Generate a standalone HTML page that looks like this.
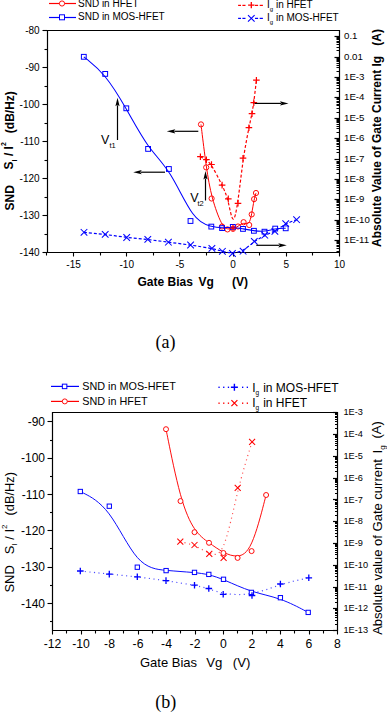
<!DOCTYPE html><html><head><meta charset="utf-8"><style>html,body{margin:0;padding:0;background:#fff;}svg{display:block}</style></head><body>
<svg width="387" height="712" viewBox="0 0 387 712">
<rect width="387" height="712" fill="#fff"/>
<path d="M47.5,30.5 H339.5 V252.5 H47.5 Z" fill="none" stroke="#000" stroke-width="1.2"/>
<path d="M42.5,30.50 H47.5" stroke="#000" stroke-width="1.1"/>
<text x="39.60" y="34.10" font-family="Liberation Sans" font-size="10" font-weight="normal" text-anchor="end" fill="#000" >-80</text>
<path d="M44.5,49.50 H47.5" stroke="#000" stroke-width="1.1"/>
<path d="M42.5,67.50 H47.5" stroke="#000" stroke-width="1.1"/>
<text x="39.60" y="71.10" font-family="Liberation Sans" font-size="10" font-weight="normal" text-anchor="end" fill="#000" >-90</text>
<path d="M44.5,86.50 H47.5" stroke="#000" stroke-width="1.1"/>
<path d="M42.5,104.50 H47.5" stroke="#000" stroke-width="1.1"/>
<text x="39.60" y="108.10" font-family="Liberation Sans" font-size="10" font-weight="normal" text-anchor="end" fill="#000" >-100</text>
<path d="M44.5,123.50 H47.5" stroke="#000" stroke-width="1.1"/>
<path d="M42.5,141.50 H47.5" stroke="#000" stroke-width="1.1"/>
<text x="39.60" y="145.10" font-family="Liberation Sans" font-size="10" font-weight="normal" text-anchor="end" fill="#000" >-110</text>
<path d="M44.5,160.50 H47.5" stroke="#000" stroke-width="1.1"/>
<path d="M42.5,178.50 H47.5" stroke="#000" stroke-width="1.1"/>
<text x="39.60" y="182.10" font-family="Liberation Sans" font-size="10" font-weight="normal" text-anchor="end" fill="#000" >-120</text>
<path d="M44.5,197.50 H47.5" stroke="#000" stroke-width="1.1"/>
<path d="M42.5,215.50 H47.5" stroke="#000" stroke-width="1.1"/>
<text x="39.60" y="219.10" font-family="Liberation Sans" font-size="10" font-weight="normal" text-anchor="end" fill="#000" >-130</text>
<path d="M44.5,234.50 H47.5" stroke="#000" stroke-width="1.1"/>
<path d="M42.5,252.50 H47.5" stroke="#000" stroke-width="1.1"/>
<text x="39.60" y="256.10" font-family="Liberation Sans" font-size="10" font-weight="normal" text-anchor="end" fill="#000" >-140</text>
<path d="M46.50,252.5 V255.5" stroke="#000" stroke-width="1.1"/>
<path d="M73.50,252.5 V256.5" stroke="#000" stroke-width="1.1"/>
<text x="73.56" y="268.00" font-family="Liberation Sans" font-size="10" font-weight="normal" text-anchor="middle" fill="#000" >-15</text>
<path d="M100.50,252.5 V255.5" stroke="#000" stroke-width="1.1"/>
<path d="M126.50,252.5 V256.5" stroke="#000" stroke-width="1.1"/>
<text x="126.74" y="268.00" font-family="Liberation Sans" font-size="10" font-weight="normal" text-anchor="middle" fill="#000" >-10</text>
<path d="M153.50,252.5 V255.5" stroke="#000" stroke-width="1.1"/>
<path d="M179.50,252.5 V256.5" stroke="#000" stroke-width="1.1"/>
<text x="179.92" y="268.00" font-family="Liberation Sans" font-size="10" font-weight="normal" text-anchor="middle" fill="#000" >-5</text>
<path d="M206.50,252.5 V255.5" stroke="#000" stroke-width="1.1"/>
<path d="M233.50,252.5 V256.5" stroke="#000" stroke-width="1.1"/>
<text x="233.10" y="268.00" font-family="Liberation Sans" font-size="10" font-weight="normal" text-anchor="middle" fill="#000" >0</text>
<path d="M259.50,252.5 V255.5" stroke="#000" stroke-width="1.1"/>
<path d="M286.50,252.5 V256.5" stroke="#000" stroke-width="1.1"/>
<text x="286.28" y="268.00" font-family="Liberation Sans" font-size="10" font-weight="normal" text-anchor="middle" fill="#000" >5</text>
<path d="M312.50,252.5 V255.5" stroke="#000" stroke-width="1.1"/>
<path d="M339.50,252.5 V256.5" stroke="#000" stroke-width="1.1"/>
<text x="339.46" y="268.00" font-family="Liberation Sans" font-size="10" font-weight="normal" text-anchor="middle" fill="#000" >10</text>
<path d="M334.5,36.50 H339.5" stroke="#000" stroke-width="1.2"/>
<text x="344.00" y="39.30" font-family="Liberation Sans" font-size="9.7" font-weight="normal" text-anchor="start" fill="#000" >0.1</text>
<path d="M334.5,57.50 H339.5" stroke="#000" stroke-width="1.2"/>
<text x="344.00" y="59.69" font-family="Liberation Sans" font-size="9.7" font-weight="normal" text-anchor="start" fill="#000" >0.01</text>
<path d="M334.5,77.50 H339.5" stroke="#000" stroke-width="1.2"/>
<text x="344.00" y="80.08" font-family="Liberation Sans" font-size="9.7" font-weight="normal" text-anchor="start" fill="#000" >1E-3</text>
<path d="M334.5,97.50 H339.5" stroke="#000" stroke-width="1.2"/>
<text x="344.00" y="100.47" font-family="Liberation Sans" font-size="9.7" font-weight="normal" text-anchor="start" fill="#000" >1E-4</text>
<path d="M334.5,118.50 H339.5" stroke="#000" stroke-width="1.2"/>
<text x="344.00" y="120.86" font-family="Liberation Sans" font-size="9.7" font-weight="normal" text-anchor="start" fill="#000" >1E-5</text>
<path d="M334.5,138.50 H339.5" stroke="#000" stroke-width="1.2"/>
<text x="344.00" y="141.25" font-family="Liberation Sans" font-size="9.7" font-weight="normal" text-anchor="start" fill="#000" >1E-6</text>
<path d="M334.5,159.50 H339.5" stroke="#000" stroke-width="1.2"/>
<text x="344.00" y="161.64" font-family="Liberation Sans" font-size="9.7" font-weight="normal" text-anchor="start" fill="#000" >1E-7</text>
<path d="M334.5,179.50 H339.5" stroke="#000" stroke-width="1.2"/>
<text x="344.00" y="182.03" font-family="Liberation Sans" font-size="9.7" font-weight="normal" text-anchor="start" fill="#000" >1E-8</text>
<path d="M334.5,199.50 H339.5" stroke="#000" stroke-width="1.2"/>
<text x="344.00" y="202.42" font-family="Liberation Sans" font-size="9.7" font-weight="normal" text-anchor="start" fill="#000" >1E-9</text>
<path d="M334.5,220.50 H339.5" stroke="#000" stroke-width="1.2"/>
<text x="344.00" y="222.81" font-family="Liberation Sans" font-size="9.7" font-weight="normal" text-anchor="start" fill="#000" >1E-10</text>
<path d="M334.5,240.50 H339.5" stroke="#000" stroke-width="1.2"/>
<text x="344.00" y="243.20" font-family="Liberation Sans" font-size="9.7" font-weight="normal" text-anchor="start" fill="#000" >1E-11</text>
<path d="M336.5,30.50 H339.5" stroke="#000" stroke-width="1"/>
<path d="M336.5,50.50 H339.5" stroke="#000" stroke-width="1"/>
<path d="M336.5,47.50 H339.5" stroke="#000" stroke-width="1"/>
<path d="M336.5,44.50 H339.5" stroke="#000" stroke-width="1"/>
<path d="M336.5,42.50 H339.5" stroke="#000" stroke-width="1"/>
<path d="M336.5,41.50 H339.5" stroke="#000" stroke-width="1"/>
<path d="M336.5,39.50 H339.5" stroke="#000" stroke-width="1"/>
<path d="M336.5,38.50 H339.5" stroke="#000" stroke-width="1"/>
<path d="M336.5,37.50 H339.5" stroke="#000" stroke-width="1"/>
<path d="M336.5,71.50 H339.5" stroke="#000" stroke-width="1"/>
<path d="M336.5,67.50 H339.5" stroke="#000" stroke-width="1"/>
<path d="M336.5,65.50 H339.5" stroke="#000" stroke-width="1"/>
<path d="M336.5,63.50 H339.5" stroke="#000" stroke-width="1"/>
<path d="M336.5,61.50 H339.5" stroke="#000" stroke-width="1"/>
<path d="M336.5,60.50 H339.5" stroke="#000" stroke-width="1"/>
<path d="M336.5,59.50 H339.5" stroke="#000" stroke-width="1"/>
<path d="M336.5,58.50 H339.5" stroke="#000" stroke-width="1"/>
<path d="M336.5,91.50 H339.5" stroke="#000" stroke-width="1"/>
<path d="M336.5,88.50 H339.5" stroke="#000" stroke-width="1"/>
<path d="M336.5,85.50 H339.5" stroke="#000" stroke-width="1"/>
<path d="M336.5,83.50 H339.5" stroke="#000" stroke-width="1"/>
<path d="M336.5,82.50 H339.5" stroke="#000" stroke-width="1"/>
<path d="M336.5,80.50 H339.5" stroke="#000" stroke-width="1"/>
<path d="M336.5,79.50 H339.5" stroke="#000" stroke-width="1"/>
<path d="M336.5,78.50 H339.5" stroke="#000" stroke-width="1"/>
<path d="M336.5,112.50 H339.5" stroke="#000" stroke-width="1"/>
<path d="M336.5,108.50 H339.5" stroke="#000" stroke-width="1"/>
<path d="M336.5,105.50 H339.5" stroke="#000" stroke-width="1"/>
<path d="M336.5,104.50 H339.5" stroke="#000" stroke-width="1"/>
<path d="M336.5,102.50 H339.5" stroke="#000" stroke-width="1"/>
<path d="M336.5,101.50 H339.5" stroke="#000" stroke-width="1"/>
<path d="M336.5,99.50 H339.5" stroke="#000" stroke-width="1"/>
<path d="M336.5,98.50 H339.5" stroke="#000" stroke-width="1"/>
<path d="M336.5,132.50 H339.5" stroke="#000" stroke-width="1"/>
<path d="M336.5,128.50 H339.5" stroke="#000" stroke-width="1"/>
<path d="M336.5,126.50 H339.5" stroke="#000" stroke-width="1"/>
<path d="M336.5,124.50 H339.5" stroke="#000" stroke-width="1"/>
<path d="M336.5,122.50 H339.5" stroke="#000" stroke-width="1"/>
<path d="M336.5,121.50 H339.5" stroke="#000" stroke-width="1"/>
<path d="M336.5,120.50 H339.5" stroke="#000" stroke-width="1"/>
<path d="M336.5,119.50 H339.5" stroke="#000" stroke-width="1"/>
<path d="M336.5,152.50 H339.5" stroke="#000" stroke-width="1"/>
<path d="M336.5,149.50 H339.5" stroke="#000" stroke-width="1"/>
<path d="M336.5,146.50 H339.5" stroke="#000" stroke-width="1"/>
<path d="M336.5,144.50 H339.5" stroke="#000" stroke-width="1"/>
<path d="M336.5,143.50 H339.5" stroke="#000" stroke-width="1"/>
<path d="M336.5,141.50 H339.5" stroke="#000" stroke-width="1"/>
<path d="M336.5,140.50 H339.5" stroke="#000" stroke-width="1"/>
<path d="M336.5,139.50 H339.5" stroke="#000" stroke-width="1"/>
<path d="M336.5,173.50 H339.5" stroke="#000" stroke-width="1"/>
<path d="M336.5,169.50 H339.5" stroke="#000" stroke-width="1"/>
<path d="M336.5,167.50 H339.5" stroke="#000" stroke-width="1"/>
<path d="M336.5,165.50 H339.5" stroke="#000" stroke-width="1"/>
<path d="M336.5,163.50 H339.5" stroke="#000" stroke-width="1"/>
<path d="M336.5,162.50 H339.5" stroke="#000" stroke-width="1"/>
<path d="M336.5,161.50 H339.5" stroke="#000" stroke-width="1"/>
<path d="M336.5,159.50 H339.5" stroke="#000" stroke-width="1"/>
<path d="M336.5,193.50 H339.5" stroke="#000" stroke-width="1"/>
<path d="M336.5,190.50 H339.5" stroke="#000" stroke-width="1"/>
<path d="M336.5,187.50 H339.5" stroke="#000" stroke-width="1"/>
<path d="M336.5,185.50 H339.5" stroke="#000" stroke-width="1"/>
<path d="M336.5,183.50 H339.5" stroke="#000" stroke-width="1"/>
<path d="M336.5,182.50 H339.5" stroke="#000" stroke-width="1"/>
<path d="M336.5,181.50 H339.5" stroke="#000" stroke-width="1"/>
<path d="M336.5,180.50 H339.5" stroke="#000" stroke-width="1"/>
<path d="M336.5,214.50 H339.5" stroke="#000" stroke-width="1"/>
<path d="M336.5,210.50 H339.5" stroke="#000" stroke-width="1"/>
<path d="M336.5,207.50 H339.5" stroke="#000" stroke-width="1"/>
<path d="M336.5,205.50 H339.5" stroke="#000" stroke-width="1"/>
<path d="M336.5,204.50 H339.5" stroke="#000" stroke-width="1"/>
<path d="M336.5,202.50 H339.5" stroke="#000" stroke-width="1"/>
<path d="M336.5,201.50 H339.5" stroke="#000" stroke-width="1"/>
<path d="M336.5,200.50 H339.5" stroke="#000" stroke-width="1"/>
<path d="M336.5,234.50 H339.5" stroke="#000" stroke-width="1"/>
<path d="M336.5,230.50 H339.5" stroke="#000" stroke-width="1"/>
<path d="M336.5,228.50 H339.5" stroke="#000" stroke-width="1"/>
<path d="M336.5,226.50 H339.5" stroke="#000" stroke-width="1"/>
<path d="M336.5,224.50 H339.5" stroke="#000" stroke-width="1"/>
<path d="M336.5,223.50 H339.5" stroke="#000" stroke-width="1"/>
<path d="M336.5,222.50 H339.5" stroke="#000" stroke-width="1"/>
<path d="M336.5,221.50 H339.5" stroke="#000" stroke-width="1"/>
<path d="M336.5,251.50 H339.5" stroke="#000" stroke-width="1"/>
<path d="M336.5,248.50 H339.5" stroke="#000" stroke-width="1"/>
<path d="M336.5,246.50 H339.5" stroke="#000" stroke-width="1"/>
<path d="M336.5,245.50 H339.5" stroke="#000" stroke-width="1"/>
<path d="M336.5,243.50 H339.5" stroke="#000" stroke-width="1"/>
<path d="M336.5,242.50 H339.5" stroke="#000" stroke-width="1"/>
<path d="M336.5,241.50 H339.5" stroke="#000" stroke-width="1"/>
<text transform="translate(13.60,210.50) rotate(-90)" font-family="Liberation Sans" font-size="12" font-weight="bold" xml:space="preserve" >SND</text>
<text transform="translate(13.00,169.40) rotate(-90)" font-family="Liberation Sans" font-size="12" font-weight="bold" xml:space="preserve" >S<tspan font-size="7" dy="3.5">I</tspan><tspan dy="-3.5"> / I</tspan><tspan font-size="7" dy="-7">2</tspan></text>
<text transform="translate(13.60,133.20) rotate(-90)" font-family="Liberation Sans" font-size="12" font-weight="bold" xml:space="preserve" >(dB/Hz)</text>
<text x="137.50" y="285.50" font-family="Liberation Sans" font-size="12" font-weight="bold" text-anchor="start" fill="#000" >Gate Bias</text>
<text x="198.50" y="285.50" font-family="Liberation Sans" font-size="12" font-weight="bold" text-anchor="start" fill="#000" >Vg</text>
<text x="232.00" y="285.50" font-family="Liberation Sans" font-size="12" font-weight="bold" text-anchor="start" fill="#000" >(V)</text>
<text transform="translate(381.00,247.00) rotate(-90)" font-family="Liberation Sans" font-size="12" font-weight="bold" xml:space="preserve" >Absolute Value of Gate Current</text>
<text transform="translate(381.00,66.50) rotate(-90)" font-family="Liberation Sans" font-size="12" font-weight="bold" xml:space="preserve" >Ig</text>
<text transform="translate(381.00,45.70) rotate(-90)" font-family="Liberation Sans" font-size="12" font-weight="bold" xml:space="preserve" >(A)</text>
<path d="M49,3.5 H76" stroke="#ff0000" stroke-width="1.2"/><circle cx="62.00" cy="3.50" r="2.6" fill="white" stroke="#ff0000" stroke-width="0.95"/>
<text x="78.00" y="6.60" font-family="Liberation Sans" font-size="10" font-weight="normal" text-anchor="start" fill="#000" >SND in HFET</text>
<path d="M49,17.5 H76" stroke="#0000ff" stroke-width="1.2"/><rect x="59.50" y="14.80" width="5" height="5" fill="white" stroke="#0000ff" stroke-width="1.0"/>
<text x="78.00" y="20.20" font-family="Liberation Sans" font-size="10" font-weight="normal" text-anchor="start" fill="#000" >SND in MOS-HFET</text>
<path d="M238.1,5.4 H241" stroke="#ff0000" stroke-width="1.25"/><path d="M242.4,5.4 H245.5" stroke="#ff0000" stroke-width="1.25"/><path d="M255,5.4 H258.1" stroke="#ff0000" stroke-width="1.25"/><path d="M259.7,5.4 H262.9" stroke="#ff0000" stroke-width="1.25"/><path d="M248.10,5.10 H254.50 M251.30,1.90 V8.30" stroke="#ff0000" stroke-width="1.3" fill="none"/>
<text x="267.00" y="8.40" font-family="Liberation Sans" font-size="10" font-weight="normal" text-anchor="start" fill="#000" >I<tspan font-size="6" dy="3">g</tspan><tspan dy="-3"> in HFET</tspan></text>
<path d="M238.1,18.4 H241" stroke="#0000ff" stroke-width="1.25"/><path d="M242.4,18.4 H245.5" stroke="#0000ff" stroke-width="1.25"/><path d="M255,18.4 H258.1" stroke="#0000ff" stroke-width="1.25"/><path d="M259.7,18.4 H262.9" stroke="#0000ff" stroke-width="1.25"/><path d="M248.00,15.10 L254.60,21.70 M248.00,21.70 L254.60,15.10" stroke="#0000ff" stroke-width="1.1" fill="none"/>
<text x="267.00" y="21.10" font-family="Liberation Sans" font-size="10" font-weight="normal" text-anchor="start" fill="#000" >I<tspan font-size="6" dy="3">g</tspan><tspan dy="-3"> in MOS-HFET</tspan></text>
<path d="M201.00,124.40 C201.00,124.40 201.00,124.40 201.87,131.57 C202.73,138.73 204.47,153.07 206.23,165.42 C208.00,177.77 209.80,188.13 212.43,197.98 C215.07,207.83 218.53,217.17 221.18,222.32 C223.83,227.47 225.67,228.43 227.50,228.82 C229.33,229.20 231.17,229.00 232.92,228.52 C234.67,228.03 236.33,227.27 238.10,226.17 C239.87,225.07 241.73,223.63 243.60,223.38 C245.47,223.13 247.33,224.07 248.68,222.77 C250.03,221.47 250.87,217.93 251.68,213.62 C252.50,209.30 253.30,204.20 254.02,200.63 C254.73,197.07 255.37,195.03 255.68,194.02 C256.00,193.00 256.00,193.00 256.00,193.00" fill="none" stroke="#ff0000" stroke-width="1.0"/>
<circle cx="201.00" cy="124.40" r="2.6" fill="none" stroke="#ff0000" stroke-width="0.95"/>
<circle cx="206.20" cy="167.40" r="2.6" fill="none" stroke="#ff0000" stroke-width="0.95"/>
<circle cx="211.60" cy="198.50" r="2.6" fill="none" stroke="#ff0000" stroke-width="0.95"/>
<circle cx="222.00" cy="226.50" r="2.6" fill="none" stroke="#ff0000" stroke-width="0.95"/>
<circle cx="227.50" cy="229.40" r="2.6" fill="none" stroke="#ff0000" stroke-width="0.95"/>
<circle cx="233.00" cy="228.80" r="2.6" fill="none" stroke="#ff0000" stroke-width="0.95"/>
<circle cx="238.00" cy="226.50" r="2.6" fill="none" stroke="#ff0000" stroke-width="0.95"/>
<circle cx="243.60" cy="222.20" r="2.6" fill="none" stroke="#ff0000" stroke-width="0.95"/>
<circle cx="249.20" cy="225.00" r="2.6" fill="none" stroke="#ff0000" stroke-width="0.95"/>
<circle cx="251.70" cy="214.40" r="2.6" fill="none" stroke="#ff0000" stroke-width="0.95"/>
<circle cx="254.10" cy="199.10" r="2.6" fill="none" stroke="#ff0000" stroke-width="0.95"/>
<circle cx="256.00" cy="193.00" r="2.6" fill="none" stroke="#ff0000" stroke-width="0.95"/>
<path d="M83.80,56.80 C83.80,56.80 83.80,56.80 87.37,59.65 C90.93,62.50 98.07,68.20 105.15,76.78 C112.23,85.37 119.27,96.83 126.42,109.33 C133.57,121.83 140.83,135.37 148.10,145.48 C155.37,155.60 162.63,162.30 170.20,174.32 C177.77,186.33 185.63,203.67 192.53,213.27 C199.43,222.87 205.37,224.73 210.13,225.92 C214.90,227.10 218.50,227.60 222.08,227.65 C225.67,227.70 229.23,227.30 232.72,227.43 C236.20,227.57 239.60,228.23 243.12,228.88 C246.63,229.53 250.27,230.17 253.85,230.63 C257.43,231.10 260.97,231.40 264.52,231.03 C268.07,230.67 271.63,229.63 275.17,229.07 C278.70,228.50 282.20,228.40 283.95,228.35 C285.70,228.30 285.70,228.30 285.70,228.30" fill="none" stroke="#0000ff" stroke-width="1.05"/>
<rect x="81.40" y="54.40" width="4.8" height="4.8" fill="none" stroke="#0000ff" stroke-width="1.0"/>
<rect x="102.80" y="71.50" width="4.8" height="4.8" fill="none" stroke="#0000ff" stroke-width="1.0"/>
<rect x="123.90" y="105.90" width="4.8" height="4.8" fill="none" stroke="#0000ff" stroke-width="1.0"/>
<rect x="145.70" y="146.50" width="4.8" height="4.8" fill="none" stroke="#0000ff" stroke-width="1.0"/>
<rect x="166.50" y="166.60" width="4.8" height="4.8" fill="none" stroke="#0000ff" stroke-width="1.0"/>
<rect x="188.10" y="218.60" width="4.8" height="4.8" fill="none" stroke="#0000ff" stroke-width="1.0"/>
<rect x="208.90" y="224.20" width="4.8" height="4.8" fill="none" stroke="#0000ff" stroke-width="1.0"/>
<rect x="219.70" y="225.70" width="4.8" height="4.8" fill="none" stroke="#0000ff" stroke-width="1.0"/>
<rect x="230.40" y="224.50" width="4.8" height="4.8" fill="none" stroke="#0000ff" stroke-width="1.0"/>
<rect x="240.60" y="226.50" width="4.8" height="4.8" fill="none" stroke="#0000ff" stroke-width="1.0"/>
<rect x="251.50" y="228.40" width="4.8" height="4.8" fill="none" stroke="#0000ff" stroke-width="1.0"/>
<rect x="262.10" y="229.30" width="4.8" height="4.8" fill="none" stroke="#0000ff" stroke-width="1.0"/>
<rect x="272.80" y="226.20" width="4.8" height="4.8" fill="none" stroke="#0000ff" stroke-width="1.0"/>
<rect x="283.30" y="225.90" width="4.8" height="4.8" fill="none" stroke="#0000ff" stroke-width="1.0"/>
<path d="M200.40,156.70 C200.40,156.70 200.40,156.70 201.40,157.20 C202.40,157.70 204.40,158.70 206.25,160.00 C208.10,161.30 209.80,162.90 212.42,167.13 C215.03,171.37 218.57,178.23 221.37,183.95 C224.17,189.67 226.23,194.23 228.05,201.38 C229.87,208.53 231.43,218.27 233.05,219.02 C234.67,219.77 236.33,211.53 238.00,199.90 C239.67,188.27 241.33,173.23 243.15,160.63 C244.97,148.03 246.93,137.87 248.43,130.45 C249.93,123.03 250.97,118.37 251.78,114.18 C252.60,110.00 253.20,106.30 253.93,100.72 C254.67,95.13 255.53,87.67 255.97,83.93 C256.40,80.20 256.40,80.20 256.40,80.20" fill="none" stroke="#ff0000" stroke-width="1.2" stroke-dasharray="3,2"/>
<path d="M197.10,156.70 H203.70 M200.40,153.40 V160.00" stroke="#ff0000" stroke-width="1.2" fill="none"/>
<path d="M203.10,159.70 H209.70 M206.40,156.40 V163.00" stroke="#ff0000" stroke-width="1.2" fill="none"/>
<path d="M208.20,164.50 H214.80 M211.50,161.20 V167.80" stroke="#ff0000" stroke-width="1.2" fill="none"/>
<path d="M218.80,185.10 H225.40 M222.10,181.80 V188.40" stroke="#ff0000" stroke-width="1.2" fill="none"/>
<path d="M225.00,198.80 H231.60 M228.30,195.50 V202.10" stroke="#ff0000" stroke-width="1.2" fill="none"/>
<path d="M229.70,228.00 H236.30 M233.00,224.70 V231.30" stroke="#ff0000" stroke-width="1.2" fill="none"/>
<path d="M234.70,203.30 H241.30 M238.00,200.00 V206.60" stroke="#ff0000" stroke-width="1.2" fill="none"/>
<path d="M239.70,158.20 H246.30 M243.00,154.90 V161.50" stroke="#ff0000" stroke-width="1.2" fill="none"/>
<path d="M245.60,127.70 H252.20 M248.90,124.40 V131.00" stroke="#ff0000" stroke-width="1.2" fill="none"/>
<path d="M248.70,113.70 H255.30 M252.00,110.40 V117.00" stroke="#ff0000" stroke-width="1.2" fill="none"/>
<path d="M250.50,102.60 H257.10 M253.80,99.30 V105.90" stroke="#ff0000" stroke-width="1.2" fill="none"/>
<path d="M253.10,80.20 H259.70 M256.40,76.90 V83.50" stroke="#ff0000" stroke-width="1.2" fill="none"/>
<path d="M84.00,232.30 C84.00,232.30 84.00,232.30 87.53,232.65 C91.07,233.00 98.13,233.70 105.25,234.57 C112.37,235.43 119.53,236.47 126.63,237.30 C133.73,238.13 140.77,238.77 147.72,239.55 C154.67,240.33 161.53,241.27 168.67,242.20 C175.80,243.13 183.20,244.07 190.45,245.10 C197.70,246.13 204.80,247.27 210.10,248.32 C215.40,249.37 218.90,250.33 222.32,251.18 C225.73,252.03 229.07,252.77 232.52,252.75 C235.97,252.73 239.53,251.97 243.18,249.95 C246.83,247.93 250.57,244.67 254.18,242.00 C257.80,239.33 261.30,237.27 264.73,235.60 C268.17,233.93 271.53,232.67 275.02,230.73 C278.50,228.80 282.10,226.20 285.72,224.25 C289.33,222.30 292.97,221.00 294.78,220.35 C296.60,219.70 296.60,219.70 296.60,219.70" fill="none" stroke="#0000ff" stroke-width="1.2" stroke-dasharray="3,2"/>
<path d="M80.70,229.00 L87.30,235.60 M80.70,235.60 L87.30,229.00" stroke="#0000ff" stroke-width="1.05" fill="none"/>
<path d="M101.90,231.10 L108.50,237.70 M101.90,237.70 L108.50,231.10" stroke="#0000ff" stroke-width="1.05" fill="none"/>
<path d="M123.40,234.20 L130.00,240.80 M123.40,240.80 L130.00,234.20" stroke="#0000ff" stroke-width="1.05" fill="none"/>
<path d="M144.50,236.10 L151.10,242.70 M144.50,242.70 L151.10,236.10" stroke="#0000ff" stroke-width="1.05" fill="none"/>
<path d="M165.10,238.90 L171.70,245.50 M165.10,245.50 L171.70,238.90" stroke="#0000ff" stroke-width="1.05" fill="none"/>
<path d="M187.30,241.70 L193.90,248.30 M187.30,248.30 L193.90,241.70" stroke="#0000ff" stroke-width="1.05" fill="none"/>
<path d="M208.60,245.10 L215.20,251.70 M208.60,251.70 L215.20,245.10" stroke="#0000ff" stroke-width="1.05" fill="none"/>
<path d="M219.10,248.00 L225.70,254.60 M219.10,254.60 L225.70,248.00" stroke="#0000ff" stroke-width="1.05" fill="none"/>
<path d="M229.10,250.20 L235.70,256.80 M229.10,256.80 L235.70,250.20" stroke="#0000ff" stroke-width="1.05" fill="none"/>
<path d="M239.80,247.90 L246.40,254.50 M239.80,254.50 L246.40,247.90" stroke="#0000ff" stroke-width="1.05" fill="none"/>
<path d="M251.00,238.10 L257.60,244.70 M251.00,244.70 L257.60,238.10" stroke="#0000ff" stroke-width="1.05" fill="none"/>
<path d="M261.50,231.90 L268.10,238.50 M261.50,238.50 L268.10,231.90" stroke="#0000ff" stroke-width="1.05" fill="none"/>
<path d="M271.60,228.10 L278.20,234.70 M271.60,234.70 L278.20,228.10" stroke="#0000ff" stroke-width="1.05" fill="none"/>
<path d="M282.40,220.30 L289.00,226.90 M282.40,226.90 L289.00,220.30" stroke="#0000ff" stroke-width="1.05" fill="none"/>
<path d="M293.30,216.40 L299.90,223.00 M293.30,223.00 L299.90,216.40" stroke="#0000ff" stroke-width="1.05" fill="none"/>
<path d="M117.50,140.00 L117.50,105.30" stroke="#000" stroke-width="1.2" fill="none"/><path d="M117.50,97.80 L119.60,106.30 L117.50,104.80 L115.40,106.30 Z" fill="#000"/>
<text x="101.00" y="144.30" font-family="Liberation Sans" font-size="12.5" font-weight="normal" text-anchor="start" fill="#000" >V</text>
<text x="109.50" y="148.00" font-family="Liberation Sans" font-size="7.5" font-weight="normal" text-anchor="start" fill="#000" >t1</text>
<path d="M198.30,131.30 L174.30,131.30" stroke="#000" stroke-width="1.2" fill="none"/><path d="M166.80,131.30 L175.30,129.20 L173.80,131.30 L175.30,133.40 Z" fill="#000"/>
<path d="M165.00,172.20 L140.70,172.20" stroke="#000" stroke-width="1.2" fill="none"/><path d="M133.20,172.20 L141.70,170.10 L140.20,172.20 L141.70,174.30 Z" fill="#000"/>
<path d="M254.60,103.40 L281.00,103.40" stroke="#000" stroke-width="1.2" fill="none"/><path d="M288.50,103.40 L280.00,105.50 L281.50,103.40 L280.00,101.30 Z" fill="#000"/>
<path d="M205.50,200.50 L205.50,178.50" stroke="#000" stroke-width="1.2" fill="none"/><path d="M205.50,171.00 L207.60,179.50 L205.50,178.00 L203.40,179.50 Z" fill="#000"/>
<text x="190.20" y="201.90" font-family="Liberation Sans" font-size="12.5" font-weight="normal" text-anchor="start" fill="#000" >V</text>
<text x="197.50" y="205.70" font-family="Liberation Sans" font-size="7.5" font-weight="normal" text-anchor="start" fill="#000" >t2</text>
<path d="M256.30,245.30 L279.30,245.30" stroke="#000" stroke-width="1.2" fill="none"/><path d="M286.80,245.30 L278.30,247.40 L279.80,245.30 L278.30,243.20 Z" fill="#000"/>
<text x="155.50" y="348.00" font-family="Liberation Serif" font-size="18" font-weight="normal" text-anchor="start" fill="#000" >(a)</text>
<path d="M52.5,412.5 H337.5 V630.5 H52.5 Z" fill="none" stroke="#000" stroke-width="1.2"/>
<path d="M47.5,421.50 H52.5" stroke="#000" stroke-width="1.1"/>
<text x="45.00" y="426.07" font-family="Liberation Sans" font-size="12" font-weight="normal" text-anchor="end" fill="#000" >-90</text>
<path d="M50.0,440.50 H52.5" stroke="#000" stroke-width="1.1"/>
<path d="M47.5,458.50 H52.5" stroke="#000" stroke-width="1.1"/>
<text x="45.00" y="462.38" font-family="Liberation Sans" font-size="12" font-weight="normal" text-anchor="end" fill="#000" >-100</text>
<path d="M50.0,476.50 H52.5" stroke="#000" stroke-width="1.1"/>
<path d="M47.5,494.50 H52.5" stroke="#000" stroke-width="1.1"/>
<text x="45.00" y="498.68" font-family="Liberation Sans" font-size="12" font-weight="normal" text-anchor="end" fill="#000" >-110</text>
<path d="M50.0,512.50 H52.5" stroke="#000" stroke-width="1.1"/>
<path d="M47.5,530.50 H52.5" stroke="#000" stroke-width="1.1"/>
<text x="45.00" y="534.98" font-family="Liberation Sans" font-size="12" font-weight="normal" text-anchor="end" fill="#000" >-120</text>
<path d="M50.0,548.50 H52.5" stroke="#000" stroke-width="1.1"/>
<path d="M47.5,567.50 H52.5" stroke="#000" stroke-width="1.1"/>
<text x="45.00" y="571.28" font-family="Liberation Sans" font-size="12" font-weight="normal" text-anchor="end" fill="#000" >-130</text>
<path d="M50.0,585.50 H52.5" stroke="#000" stroke-width="1.1"/>
<path d="M47.5,603.50 H52.5" stroke="#000" stroke-width="1.1"/>
<text x="45.00" y="607.58" font-family="Liberation Sans" font-size="12" font-weight="normal" text-anchor="end" fill="#000" >-140</text>
<path d="M50.0,621.50 H52.5" stroke="#000" stroke-width="1.1"/>
<path d="M52.50,630.5 V634.5" stroke="#000" stroke-width="1.1"/>
<text x="52.50" y="647.50" font-family="Liberation Sans" font-size="12.2" font-weight="normal" text-anchor="middle" fill="#000" >-12</text>
<path d="M66.50,630.5 V633.5" stroke="#000" stroke-width="1.1"/>
<path d="M81.50,630.5 V634.5" stroke="#000" stroke-width="1.1"/>
<text x="81.00" y="647.50" font-family="Liberation Sans" font-size="12.2" font-weight="normal" text-anchor="middle" fill="#000" >-10</text>
<path d="M95.50,630.5 V633.5" stroke="#000" stroke-width="1.1"/>
<path d="M109.50,630.5 V634.5" stroke="#000" stroke-width="1.1"/>
<text x="109.50" y="647.50" font-family="Liberation Sans" font-size="12.2" font-weight="normal" text-anchor="middle" fill="#000" >-8</text>
<path d="M123.50,630.5 V633.5" stroke="#000" stroke-width="1.1"/>
<path d="M138.50,630.5 V634.5" stroke="#000" stroke-width="1.1"/>
<text x="138.00" y="647.50" font-family="Liberation Sans" font-size="12.2" font-weight="normal" text-anchor="middle" fill="#000" >-6</text>
<path d="M152.50,630.5 V633.5" stroke="#000" stroke-width="1.1"/>
<path d="M166.50,630.5 V634.5" stroke="#000" stroke-width="1.1"/>
<text x="166.50" y="647.50" font-family="Liberation Sans" font-size="12.2" font-weight="normal" text-anchor="middle" fill="#000" >-4</text>
<path d="M180.50,630.5 V633.5" stroke="#000" stroke-width="1.1"/>
<path d="M195.50,630.5 V634.5" stroke="#000" stroke-width="1.1"/>
<text x="195.00" y="647.50" font-family="Liberation Sans" font-size="12.2" font-weight="normal" text-anchor="middle" fill="#000" >-2</text>
<path d="M209.50,630.5 V633.5" stroke="#000" stroke-width="1.1"/>
<path d="M223.50,630.5 V634.5" stroke="#000" stroke-width="1.1"/>
<text x="223.50" y="647.50" font-family="Liberation Sans" font-size="12.2" font-weight="normal" text-anchor="middle" fill="#000" >0</text>
<path d="M237.50,630.5 V633.5" stroke="#000" stroke-width="1.1"/>
<path d="M252.50,630.5 V634.5" stroke="#000" stroke-width="1.1"/>
<text x="252.00" y="647.50" font-family="Liberation Sans" font-size="12.2" font-weight="normal" text-anchor="middle" fill="#000" >2</text>
<path d="M266.50,630.5 V633.5" stroke="#000" stroke-width="1.1"/>
<path d="M280.50,630.5 V634.5" stroke="#000" stroke-width="1.1"/>
<text x="280.50" y="647.50" font-family="Liberation Sans" font-size="12.2" font-weight="normal" text-anchor="middle" fill="#000" >4</text>
<path d="M294.50,630.5 V633.5" stroke="#000" stroke-width="1.1"/>
<path d="M309.50,630.5 V634.5" stroke="#000" stroke-width="1.1"/>
<text x="309.00" y="647.50" font-family="Liberation Sans" font-size="12.2" font-weight="normal" text-anchor="middle" fill="#000" >6</text>
<path d="M323.50,630.5 V633.5" stroke="#000" stroke-width="1.1"/>
<path d="M337.50,630.5 V634.5" stroke="#000" stroke-width="1.1"/>
<text x="337.50" y="647.50" font-family="Liberation Sans" font-size="12.2" font-weight="normal" text-anchor="middle" fill="#000" >8</text>
<path d="M333.0,412.50 H337.5" stroke="#000" stroke-width="1.2"/>
<text x="343.50" y="415.40" font-family="Liberation Sans" font-size="9.2" font-weight="normal" text-anchor="start" fill="#000" >1E-3</text>
<path d="M333.0,434.50 H337.5" stroke="#000" stroke-width="1.2"/>
<text x="343.50" y="437.18" font-family="Liberation Sans" font-size="9.2" font-weight="normal" text-anchor="start" fill="#000" >1E-4</text>
<path d="M333.0,456.50 H337.5" stroke="#000" stroke-width="1.2"/>
<text x="343.50" y="458.96" font-family="Liberation Sans" font-size="9.2" font-weight="normal" text-anchor="start" fill="#000" >1E-5</text>
<path d="M333.0,478.50 H337.5" stroke="#000" stroke-width="1.2"/>
<text x="343.50" y="480.74" font-family="Liberation Sans" font-size="9.2" font-weight="normal" text-anchor="start" fill="#000" >1E-6</text>
<path d="M333.0,499.50 H337.5" stroke="#000" stroke-width="1.2"/>
<text x="343.50" y="502.52" font-family="Liberation Sans" font-size="9.2" font-weight="normal" text-anchor="start" fill="#000" >1E-7</text>
<path d="M333.0,521.50 H337.5" stroke="#000" stroke-width="1.2"/>
<text x="343.50" y="524.30" font-family="Liberation Sans" font-size="9.2" font-weight="normal" text-anchor="start" fill="#000" >1E-8</text>
<path d="M333.0,543.50 H337.5" stroke="#000" stroke-width="1.2"/>
<text x="343.50" y="546.08" font-family="Liberation Sans" font-size="9.2" font-weight="normal" text-anchor="start" fill="#000" >1E-9</text>
<path d="M333.0,565.50 H337.5" stroke="#000" stroke-width="1.2"/>
<text x="343.50" y="567.86" font-family="Liberation Sans" font-size="9.2" font-weight="normal" text-anchor="start" fill="#000" >1E-10</text>
<path d="M333.0,587.50 H337.5" stroke="#000" stroke-width="1.2"/>
<text x="343.50" y="589.64" font-family="Liberation Sans" font-size="9.2" font-weight="normal" text-anchor="start" fill="#000" >1E-11</text>
<path d="M333.0,608.50 H337.5" stroke="#000" stroke-width="1.2"/>
<text x="343.50" y="611.42" font-family="Liberation Sans" font-size="9.2" font-weight="normal" text-anchor="start" fill="#000" >1E-12</text>
<path d="M333.0,630.50 H337.5" stroke="#000" stroke-width="1.2"/>
<text x="343.50" y="633.20" font-family="Liberation Sans" font-size="9.2" font-weight="normal" text-anchor="start" fill="#000" >1E-13</text>
<path d="M335.0,428.50 H337.5" stroke="#000" stroke-width="1"/>
<path d="M335.0,424.50 H337.5" stroke="#000" stroke-width="1"/>
<path d="M335.0,421.50 H337.5" stroke="#000" stroke-width="1"/>
<path d="M335.0,419.50 H337.5" stroke="#000" stroke-width="1"/>
<path d="M335.0,417.50 H337.5" stroke="#000" stroke-width="1"/>
<path d="M335.0,416.50 H337.5" stroke="#000" stroke-width="1"/>
<path d="M335.0,414.50 H337.5" stroke="#000" stroke-width="1"/>
<path d="M335.0,413.50 H337.5" stroke="#000" stroke-width="1"/>
<path d="M335.0,449.50 H337.5" stroke="#000" stroke-width="1"/>
<path d="M335.0,445.50 H337.5" stroke="#000" stroke-width="1"/>
<path d="M335.0,443.50 H337.5" stroke="#000" stroke-width="1"/>
<path d="M335.0,441.50 H337.5" stroke="#000" stroke-width="1"/>
<path d="M335.0,439.50 H337.5" stroke="#000" stroke-width="1"/>
<path d="M335.0,437.50 H337.5" stroke="#000" stroke-width="1"/>
<path d="M335.0,436.50 H337.5" stroke="#000" stroke-width="1"/>
<path d="M335.0,435.50 H337.5" stroke="#000" stroke-width="1"/>
<path d="M335.0,471.50 H337.5" stroke="#000" stroke-width="1"/>
<path d="M335.0,467.50 H337.5" stroke="#000" stroke-width="1"/>
<path d="M335.0,465.50 H337.5" stroke="#000" stroke-width="1"/>
<path d="M335.0,462.50 H337.5" stroke="#000" stroke-width="1"/>
<path d="M335.0,461.50 H337.5" stroke="#000" stroke-width="1"/>
<path d="M335.0,459.50 H337.5" stroke="#000" stroke-width="1"/>
<path d="M335.0,458.50 H337.5" stroke="#000" stroke-width="1"/>
<path d="M335.0,457.50 H337.5" stroke="#000" stroke-width="1"/>
<path d="M335.0,493.50 H337.5" stroke="#000" stroke-width="1"/>
<path d="M335.0,489.50 H337.5" stroke="#000" stroke-width="1"/>
<path d="M335.0,486.50 H337.5" stroke="#000" stroke-width="1"/>
<path d="M335.0,484.50 H337.5" stroke="#000" stroke-width="1"/>
<path d="M335.0,482.50 H337.5" stroke="#000" stroke-width="1"/>
<path d="M335.0,481.50 H337.5" stroke="#000" stroke-width="1"/>
<path d="M335.0,480.50 H337.5" stroke="#000" stroke-width="1"/>
<path d="M335.0,479.50 H337.5" stroke="#000" stroke-width="1"/>
<path d="M335.0,515.50 H337.5" stroke="#000" stroke-width="1"/>
<path d="M335.0,511.50 H337.5" stroke="#000" stroke-width="1"/>
<path d="M335.0,508.50 H337.5" stroke="#000" stroke-width="1"/>
<path d="M335.0,506.50 H337.5" stroke="#000" stroke-width="1"/>
<path d="M335.0,504.50 H337.5" stroke="#000" stroke-width="1"/>
<path d="M335.0,503.50 H337.5" stroke="#000" stroke-width="1"/>
<path d="M335.0,502.50 H337.5" stroke="#000" stroke-width="1"/>
<path d="M335.0,500.50 H337.5" stroke="#000" stroke-width="1"/>
<path d="M335.0,536.50 H337.5" stroke="#000" stroke-width="1"/>
<path d="M335.0,533.50 H337.5" stroke="#000" stroke-width="1"/>
<path d="M335.0,530.50 H337.5" stroke="#000" stroke-width="1"/>
<path d="M335.0,528.50 H337.5" stroke="#000" stroke-width="1"/>
<path d="M335.0,526.50 H337.5" stroke="#000" stroke-width="1"/>
<path d="M335.0,525.50 H337.5" stroke="#000" stroke-width="1"/>
<path d="M335.0,523.50 H337.5" stroke="#000" stroke-width="1"/>
<path d="M335.0,522.50 H337.5" stroke="#000" stroke-width="1"/>
<path d="M335.0,558.50 H337.5" stroke="#000" stroke-width="1"/>
<path d="M335.0,554.50 H337.5" stroke="#000" stroke-width="1"/>
<path d="M335.0,552.50 H337.5" stroke="#000" stroke-width="1"/>
<path d="M335.0,550.50 H337.5" stroke="#000" stroke-width="1"/>
<path d="M335.0,548.50 H337.5" stroke="#000" stroke-width="1"/>
<path d="M335.0,546.50 H337.5" stroke="#000" stroke-width="1"/>
<path d="M335.0,545.50 H337.5" stroke="#000" stroke-width="1"/>
<path d="M335.0,544.50 H337.5" stroke="#000" stroke-width="1"/>
<path d="M335.0,580.50 H337.5" stroke="#000" stroke-width="1"/>
<path d="M335.0,576.50 H337.5" stroke="#000" stroke-width="1"/>
<path d="M335.0,573.50 H337.5" stroke="#000" stroke-width="1"/>
<path d="M335.0,571.50 H337.5" stroke="#000" stroke-width="1"/>
<path d="M335.0,570.50 H337.5" stroke="#000" stroke-width="1"/>
<path d="M335.0,568.50 H337.5" stroke="#000" stroke-width="1"/>
<path d="M335.0,567.50 H337.5" stroke="#000" stroke-width="1"/>
<path d="M335.0,566.50 H337.5" stroke="#000" stroke-width="1"/>
<path d="M335.0,602.50 H337.5" stroke="#000" stroke-width="1"/>
<path d="M335.0,598.50 H337.5" stroke="#000" stroke-width="1"/>
<path d="M335.0,595.50 H337.5" stroke="#000" stroke-width="1"/>
<path d="M335.0,593.50 H337.5" stroke="#000" stroke-width="1"/>
<path d="M335.0,591.50 H337.5" stroke="#000" stroke-width="1"/>
<path d="M335.0,590.50 H337.5" stroke="#000" stroke-width="1"/>
<path d="M335.0,589.50 H337.5" stroke="#000" stroke-width="1"/>
<path d="M335.0,588.50 H337.5" stroke="#000" stroke-width="1"/>
<path d="M335.0,624.50 H337.5" stroke="#000" stroke-width="1"/>
<path d="M335.0,620.50 H337.5" stroke="#000" stroke-width="1"/>
<path d="M335.0,617.50 H337.5" stroke="#000" stroke-width="1"/>
<path d="M335.0,615.50 H337.5" stroke="#000" stroke-width="1"/>
<path d="M335.0,613.50 H337.5" stroke="#000" stroke-width="1"/>
<path d="M335.0,612.50 H337.5" stroke="#000" stroke-width="1"/>
<path d="M335.0,610.50 H337.5" stroke="#000" stroke-width="1"/>
<path d="M335.0,609.50 H337.5" stroke="#000" stroke-width="1"/>
<text transform="translate(13.80,592.60) rotate(-90)" font-family="Liberation Sans" font-size="13" font-weight="normal" xml:space="preserve" >SND</text>
<text transform="translate(13.80,554.20) rotate(-90)" font-family="Liberation Sans" font-size="13" font-weight="normal" xml:space="preserve" >S<tspan font-size="7.5" dy="3.2">I</tspan><tspan dy="-3.2"> / I</tspan><tspan font-size="8" dy="-7.2">2</tspan></text>
<text transform="translate(13.80,515.40) rotate(-90)" font-family="Liberation Sans" font-size="12.8" font-weight="normal" xml:space="preserve" >(dB/Hz)</text>
<text x="140.00" y="666.80" font-family="Liberation Sans" font-size="13" font-weight="normal" text-anchor="start" fill="#000" >Gate Bias</text>
<text x="206.30" y="666.80" font-family="Liberation Sans" font-size="13.2" font-weight="normal" text-anchor="start" fill="#000" >Vg</text>
<text x="232.80" y="666.80" font-family="Liberation Sans" font-size="13.2" font-weight="normal" text-anchor="start" fill="#000" >(V)</text>
<text transform="translate(381.80,634.80) rotate(-90)" font-family="Liberation Sans" font-size="13" font-weight="normal" xml:space="preserve" >Absolute value of Gate current</text>
<text transform="translate(381.50,453.40) rotate(-90)" font-family="Liberation Sans" font-size="13" font-weight="normal" xml:space="preserve" >I<tspan font-size="8" dy="3.5">g</tspan></text>
<text transform="translate(381.30,438.50) rotate(-90)" font-family="Liberation Sans" font-size="13" font-weight="normal" xml:space="preserve" >(A)</text>
<path d="M51,386.4 H79" stroke="#0000ff" stroke-width="1.2"/><rect x="62.35" y="384.15" width="4.5" height="4.5" fill="white" stroke="#0000ff" stroke-width="1.0"/>
<text x="82.30" y="389.70" font-family="Liberation Sans" font-size="10.8" font-weight="normal" text-anchor="start" fill="#000" >SND in MOS-HFET</text>
<path d="M51,401.4 H79" stroke="#ff0000" stroke-width="1.2"/><circle cx="64.80" cy="401.40" r="2.5" fill="white" stroke="#ff0000" stroke-width="0.95"/>
<text x="82.30" y="404.60" font-family="Liberation Sans" font-size="10.8" font-weight="normal" text-anchor="start" fill="#000" >SND in HFET</text>
<rect x="218.4" y="386.6" width="1.3" height="1.4" fill="#0000ff"/><rect x="223.1" y="386.6" width="1.3" height="1.4" fill="#0000ff"/><rect x="227.8" y="386.6" width="1.3" height="1.4" fill="#0000ff"/><rect x="242.0" y="386.6" width="1.3" height="1.4" fill="#0000ff"/><rect x="246.70000000000002" y="386.6" width="1.3" height="1.4" fill="#0000ff"/><path d="M230.90,387.30 H237.90 M234.40,383.80 V390.80" stroke="#0000ff" stroke-width="1.4" fill="none"/>
<text x="252.20" y="391.60" font-family="Liberation Sans" font-size="12" font-weight="normal" text-anchor="start" fill="#000" >I<tspan font-size="6.5" dy="3.3">g</tspan><tspan dy="-3.3" x="259.8"> in MOS-HFET</tspan></text>
<rect x="218.4" y="402.5" width="1.3" height="1.4" fill="#ff0000"/><rect x="223.1" y="402.5" width="1.3" height="1.4" fill="#ff0000"/><rect x="227.8" y="402.5" width="1.3" height="1.4" fill="#ff0000"/><rect x="242.0" y="402.5" width="1.3" height="1.4" fill="#ff0000"/><rect x="246.70000000000002" y="402.5" width="1.3" height="1.4" fill="#ff0000"/><path d="M231.40,400.20 L237.40,406.20 M231.40,406.20 L237.40,400.20" stroke="#ff0000" stroke-width="1.2" fill="none"/>
<text x="252.20" y="407.10" font-family="Liberation Sans" font-size="12" font-weight="normal" text-anchor="start" fill="#000" >I<tspan font-size="6.5" dy="3.3">g</tspan><tspan dy="-3.3" x="259.8"> in HFET</tspan></text>
<path d="M80.30,491.50 C80.30,491.50 80.30,491.50 85.13,493.95 C89.97,496.40 99.63,501.30 109.13,513.92 C118.63,526.53 127.97,546.87 137.43,557.60 C146.90,568.33 156.50,569.47 166.03,570.33 C175.57,571.20 185.03,571.80 192.15,572.43 C199.27,573.07 204.03,573.73 208.87,574.88 C213.70,576.03 218.60,577.67 225.70,580.67 C232.80,583.67 242.10,588.03 251.58,591.10 C261.07,594.17 270.73,595.93 280.20,599.27 C289.67,602.60 298.93,607.50 303.57,609.95 C308.20,612.40 308.20,612.40 308.20,612.40" fill="none" stroke="#0000ff" stroke-width="0.95"/>
<path d="M80.30,571.00 C80.30,571.00 80.30,571.00 85.13,571.52 C89.97,572.03 99.63,573.07 109.13,574.03 C118.63,575.00 127.97,575.90 137.42,576.98 C146.87,578.07 156.43,579.33 165.97,580.73 C175.50,582.13 185.00,583.67 192.13,584.98 C199.27,586.30 204.03,587.40 208.82,588.92 C213.60,590.43 218.40,592.37 225.60,593.53 C232.80,594.70 242.40,595.10 251.93,593.38 C261.47,591.67 270.93,587.83 280.40,584.88 C289.87,581.93 299.33,579.87 304.07,578.83 C308.80,577.80 308.80,577.80 308.80,577.80" fill="none" stroke="#0000ff" stroke-opacity="0.7" stroke-width="1.2" stroke-dasharray="1.1,3.5"/>
<path d="M166.00,429.20 C166.00,429.20 166.00,429.20 168.42,441.18 C170.83,453.17 175.67,477.13 180.42,494.30 C185.17,511.47 189.83,521.83 194.58,528.78 C199.33,535.73 204.17,539.27 208.98,542.73 C213.80,546.20 218.60,549.60 223.37,552.12 C228.13,554.63 232.87,556.27 237.57,555.95 C242.27,555.63 246.93,553.37 251.68,542.88 C256.43,532.40 261.27,513.70 263.68,504.35 C266.10,495.00 266.10,495.00 266.10,495.00" fill="none" stroke="#ff0000" stroke-width="0.95"/>
<path d="M180.30,541.70 C180.30,541.70 180.30,541.70 182.67,542.25 C185.03,542.80 189.77,543.90 194.60,545.92 C199.43,547.93 204.37,550.87 209.22,553.00 C214.07,555.13 218.83,556.47 223.57,545.47 C228.30,534.47 233.00,511.13 237.75,491.80 C242.50,472.47 247.30,457.13 249.70,449.47 C252.10,441.80 252.10,441.80 252.10,441.80" fill="none" stroke="#ff0000" stroke-opacity="0.7" stroke-width="1.2" stroke-dasharray="1.1,3.5"/>
<rect x="78.15" y="489.35" width="4.3" height="4.3" fill="white" stroke="#0000ff" stroke-width="1.0"/>
<rect x="107.15" y="504.05" width="4.3" height="4.3" fill="white" stroke="#0000ff" stroke-width="1.0"/>
<rect x="135.15" y="565.05" width="4.3" height="4.3" fill="white" stroke="#0000ff" stroke-width="1.0"/>
<rect x="163.95" y="568.45" width="4.3" height="4.3" fill="white" stroke="#0000ff" stroke-width="1.0"/>
<rect x="192.35" y="570.25" width="4.3" height="4.3" fill="white" stroke="#0000ff" stroke-width="1.0"/>
<rect x="206.65" y="572.25" width="4.3" height="4.3" fill="white" stroke="#0000ff" stroke-width="1.0"/>
<rect x="221.35" y="577.15" width="4.3" height="4.3" fill="white" stroke="#0000ff" stroke-width="1.0"/>
<rect x="249.25" y="590.25" width="4.3" height="4.3" fill="white" stroke="#0000ff" stroke-width="1.0"/>
<rect x="278.25" y="595.55" width="4.3" height="4.3" fill="white" stroke="#0000ff" stroke-width="1.0"/>
<rect x="306.05" y="610.25" width="4.3" height="4.3" fill="white" stroke="#0000ff" stroke-width="1.0"/>
<path d="M77.00,571.00 H83.60 M80.30,567.70 V574.30" stroke="#0000ff" stroke-width="1.3" fill="none"/>
<path d="M106.00,574.10 H112.60 M109.30,570.80 V577.40" stroke="#0000ff" stroke-width="1.3" fill="none"/>
<path d="M134.00,576.80 H140.60 M137.30,573.50 V580.10" stroke="#0000ff" stroke-width="1.3" fill="none"/>
<path d="M162.70,580.60 H169.30 M166.00,577.30 V583.90" stroke="#0000ff" stroke-width="1.3" fill="none"/>
<path d="M191.20,585.20 H197.80 M194.50,581.90 V588.50" stroke="#0000ff" stroke-width="1.3" fill="none"/>
<path d="M205.50,588.50 H212.10 M208.80,585.20 V591.80" stroke="#0000ff" stroke-width="1.3" fill="none"/>
<path d="M219.90,594.30 H226.50 M223.20,591.00 V597.60" stroke="#0000ff" stroke-width="1.3" fill="none"/>
<path d="M248.70,595.50 H255.30 M252.00,592.20 V598.80" stroke="#0000ff" stroke-width="1.3" fill="none"/>
<path d="M277.10,584.00 H283.70 M280.40,580.70 V587.30" stroke="#0000ff" stroke-width="1.3" fill="none"/>
<path d="M305.50,577.80 H312.10 M308.80,574.50 V581.10" stroke="#0000ff" stroke-width="1.3" fill="none"/>
<circle cx="166.00" cy="429.20" r="2.5" fill="white" stroke="#ff0000" stroke-width="0.95"/>
<circle cx="180.50" cy="501.10" r="2.5" fill="white" stroke="#ff0000" stroke-width="0.95"/>
<circle cx="194.50" cy="532.20" r="2.5" fill="white" stroke="#ff0000" stroke-width="0.95"/>
<circle cx="209.00" cy="542.80" r="2.5" fill="white" stroke="#ff0000" stroke-width="0.95"/>
<circle cx="223.40" cy="553.00" r="2.5" fill="white" stroke="#ff0000" stroke-width="0.95"/>
<circle cx="237.60" cy="557.90" r="2.5" fill="white" stroke="#ff0000" stroke-width="0.95"/>
<circle cx="251.60" cy="551.10" r="2.5" fill="white" stroke="#ff0000" stroke-width="0.95"/>
<circle cx="266.10" cy="495.00" r="2.5" fill="white" stroke="#ff0000" stroke-width="0.95"/>
<path d="M177.30,538.70 L183.30,544.70 M177.30,544.70 L183.30,538.70" stroke="#ff0000" stroke-width="1.05" fill="none"/>
<path d="M191.50,542.00 L197.50,548.00 M191.50,548.00 L197.50,542.00" stroke="#ff0000" stroke-width="1.05" fill="none"/>
<path d="M206.30,550.80 L212.30,556.80 M206.30,556.80 L212.30,550.80" stroke="#ff0000" stroke-width="1.05" fill="none"/>
<path d="M220.60,554.80 L226.60,560.80 M220.60,560.80 L226.60,554.80" stroke="#ff0000" stroke-width="1.05" fill="none"/>
<path d="M234.70,484.80 L240.70,490.80 M234.70,490.80 L240.70,484.80" stroke="#ff0000" stroke-width="1.05" fill="none"/>
<path d="M249.10,438.80 L255.10,444.80 M249.10,444.80 L255.10,438.80" stroke="#ff0000" stroke-width="1.05" fill="none"/>
<text x="155.20" y="707.50" font-family="Liberation Serif" font-size="18" font-weight="normal" text-anchor="start" fill="#000" >(b)</text>
</svg></body></html>
